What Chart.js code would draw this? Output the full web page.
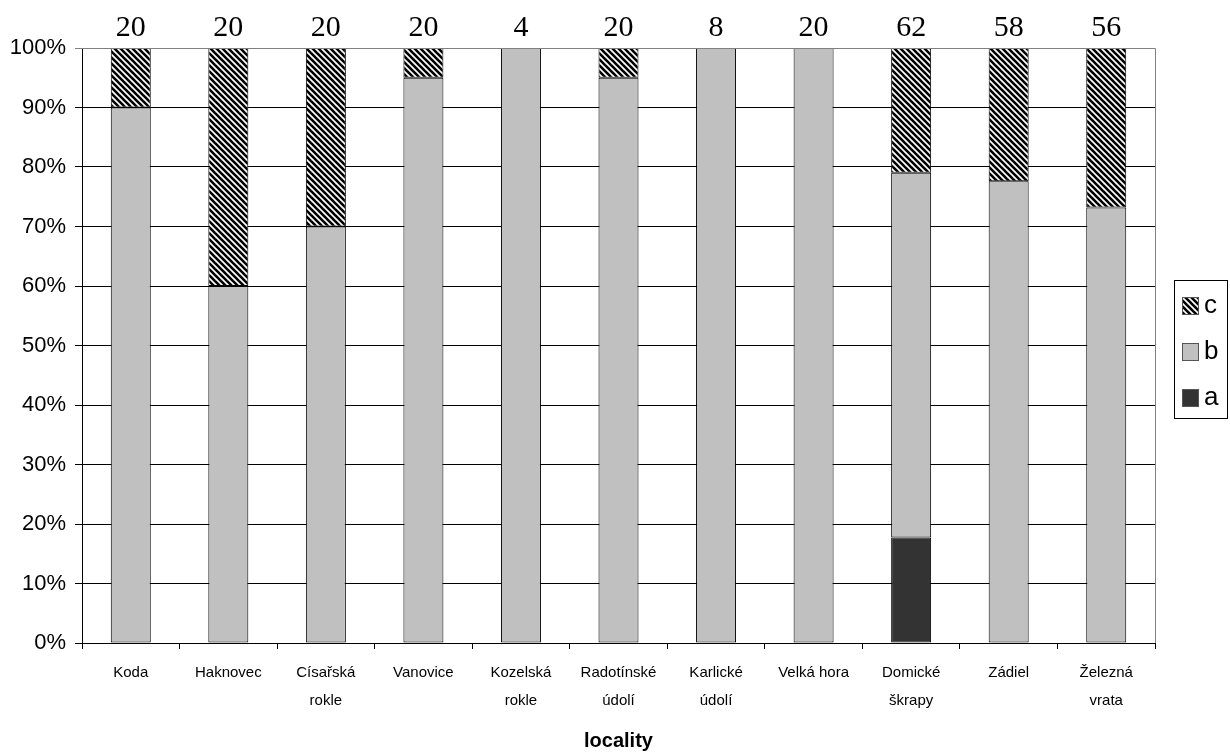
<!DOCTYPE html>
<html>
<head>
<meta charset="utf-8">
<title>locality</title>
<script src="https://cdn.jsdelivr.net/npm/chart.js@4.4.0/dist/chart.umd.min.js"></script>
<style>
  html, body { margin: 0; padding: 0; background: #fff; }
  #wrap { width: 1230px; height: 756px; }
</style>
</head>
<body>
<div id="wrap"><canvas id="chart" width="1230" height="756"></canvas></div>
<script>
const localities = [
  "Koda", "Haknovec", ["Císařská", "rokle"], "Vanovice", ["Kozelská", "rokle"],
  ["Radotínské", "údolí"], ["Karlické", "údolí"], "Velká hora", ["Domické", "škrapy"],
  "Zádiel", ["Železná", "vrata"]
];
// number of specimens per locality (printed above the bars)
const sampleSizes = [20, 20, 20, 20, 4, 20, 8, 20, 62, 58, 56];
// counts per category
const countA = [0, 0, 0, 0, 0, 0, 0, 0, 11, 0, 0];
const countB = [18, 12, 14, 19, 4, 19, 8, 20, 38, 45, 41];
const countC = [2, 8, 6, 1, 0, 1, 0, 0, 13, 13, 15];

const FONT = "'Liberation Sans', Arial, sans-serif";
const SERIF = "'Liberation Serif', 'Times New Roman', serif";

function toPercent(counts) {
  return counts.map((v, i) => v === 0 ? null : v / sampleSizes[i] * 100);
}

// black/white diagonal hatch
function makeHatch() {
  const n = 6;
  const c = document.createElement("canvas");
  c.width = n; c.height = n;
  const g = c.getContext("2d");
  g.fillStyle = "#fff";
  g.fillRect(0, 0, n, n);
  g.strokeStyle = "#000";
  g.lineWidth = 2.6;
  for (const k of [-n, 0, n]) {
    g.beginPath();
    g.moveTo(k - 1, -1);
    g.lineTo(k + n + 1, n + 1);
    g.stroke();
  }
  return g.createPattern(c, "repeat");
}

const ctx = document.getElementById("chart").getContext("2d");
const hatch = makeHatch();

const legendItems = [
  { label: "c", fill: hatch },
  { label: "b", fill: "#c0c0c0" },
  { label: "a", fill: "#333333" }
];

const extras = {
  id: "extras",
  afterDraw(chart) {
    const g = chart.ctx;
    const area = chart.chartArea;
    const xs = chart.scales.x;
    g.save();
    // plot frame: top and right edges
    g.strokeStyle = "#808080";
    g.lineWidth = 1;
    g.beginPath();
    g.moveTo(area.left, area.top + 0.5);
    g.lineTo(area.right + 0.5, area.top + 0.5);
    g.lineTo(area.right + 0.5, area.bottom);
    g.stroke();

    // sample sizes above bars
    g.fillStyle = "#000";
    g.font = "30px " + SERIF;
    g.textAlign = "center";
    g.textBaseline = "middle";
    sampleSizes.forEach((n, i) => {
      g.fillText(String(n), xs.getPixelForValue(i), 28);
    });

    // axis title
    g.font = "bold 20px " + FONT;
    g.fillText("locality", (area.left + area.right) / 2, 741);

    // legend
    const lx = 1174, ly = 280, lw = 53, lh = 138;
    g.strokeStyle = "#000";
    g.strokeRect(lx + 0.5, ly + 0.5, lw, lh);
    g.font = "26px " + FONT;
    g.textAlign = "left";
    legendItems.forEach((it, i) => {
      const cy = 305 + i * 46;
      g.fillStyle = it.fill;
      g.fillRect(1182, cy - 8, 16, 17);
      g.strokeStyle = "#555";
      g.strokeRect(1182.5, cy - 7.5, 16, 17);
      g.fillStyle = "#000";
      g.fillText(it.label, 1204, cy + 1);
    });
    g.restore();
  }
};

const barCommon = {
  borderColor: "#000",
  borderWidth: 1,
  borderSkipped: false,
  barPercentage: 0.41,
  categoryPercentage: 1
};

new Chart(ctx, {
  type: "bar",
  data: {
    labels: localities,
    datasets: [
      Object.assign({ label: "a", data: toPercent(countA), backgroundColor: "#333333" }, barCommon),
      Object.assign({ label: "b", data: toPercent(countB), backgroundColor: "#c0c0c0" }, barCommon),
      Object.assign({ label: "c", data: toPercent(countC), backgroundColor: hatch }, barCommon)
    ]
  },
  options: {
    responsive: false,
    animation: false,
    layout: { padding: { left: 0, top: 48, right: 75, bottom: 0 } },
    plugins: {
      legend: { display: false },
      tooltip: { enabled: false }
    },
    scales: {
      x: {
        stacked: true,
        afterFit: (s) => { s.height = 113; },
        grid: {
          offset: true,
          drawOnChartArea: false,
          drawTicks: true,
          tickLength: 6,
          color: "#000"
        },
        border: { color: "#000", width: 1 },
        ticks: {
          color: "#000",
          autoSkip: false,
          maxRotation: 0,
          padding: 10,
          font: { family: FONT, size: 15, lineHeight: 1.85 }
        }
      },
      y: {
        stacked: true,
        min: 0,
        max: 100,
        afterFit: (s) => { s.width = 82; },
        grid: {
          color: (c) => c.tick && c.tick.value === 100 ? "#808080" : "#000",
          tickLength: 7
        },
        border: { color: "#000", width: 1 },
        ticks: {
          stepSize: 10,
          color: "#000",
          padding: 9,
          font: { family: FONT, size: 22 },
          callback: (v) => v + "%"
        }
      }
    }
  },
  plugins: [extras]
});
</script>
</body>
</html>
